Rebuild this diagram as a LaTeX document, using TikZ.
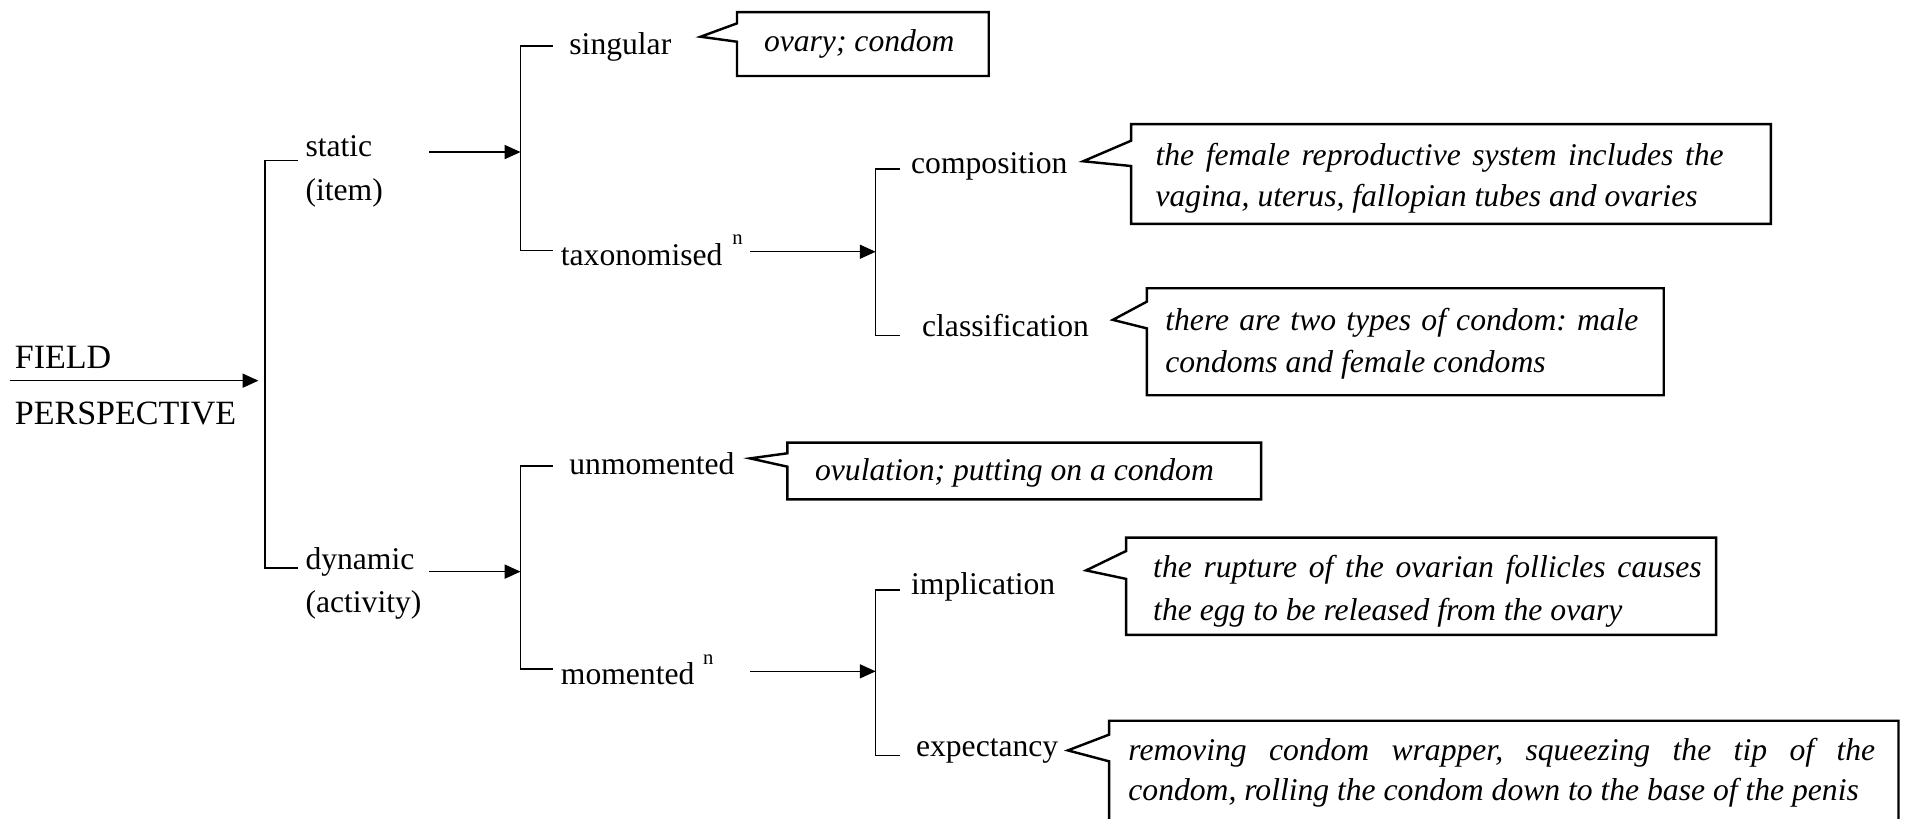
\documentclass[tikz,border=0pt]{standalone}
\usepackage{fontspec}
\setmainfont{Liberation Serif}
\usetikzlibrary{arrows.meta}
\frenchspacing

% outline of a rectangular speech bubble whose wedge points left:
% left, top, right, bottom, wedge top, wedge bottom, tip x, tip y
\newcommand{\drawbubble}[8]{%
  \draw[bubble] (#1,#2) -- (#3,#2) -- (#3,#4) -- (#1,#4) -- (#1,#6)
    -- (#7,#8) -- (#1,#5) -- cycle;}

\begin{document}
\begin{tikzpicture}[x=1pt,y=-1pt,
  lbl/.style={anchor=base west, inner sep=0pt, font=\fontsize{26}{34}\selectfont},
  rootlbl/.style={anchor=base west, inner sep=0pt, font=\fontsize{28}{34}\selectfont},
  note/.style={anchor=base west, inner sep=0pt, font=\fontsize{26}{34}\selectfont\itshape\frenchspacing},
  supn/.style={anchor=base west, inner sep=0pt, font=\fontsize{17}{20}\selectfont},
  tree/.style={line width=1.2pt},
  link/.style={line width=1.2pt, -{Triangle[length=13pt,width=11.5pt]}},
  bubble/.style={line width=2pt, line join=miter},
]
\useasboundingbox (0,0) rectangle (1568,673);

% ---- root ----
\node[rootlbl] (field) at (12,303) {FIELD};
\node[rootlbl] (persp) at (12,349) {PERSPECTIVE};
\coordinate (fp) at (8,313);
\coordinate (j1) at (218,313);
\coordinate (s1a) at (245,132);
\coordinate (s1b) at (245,467);
\draw[link, shorten >=5.5pt] (fp) -- (j1);
\draw[tree] (s1a) -| (j1) |- (s1b);

% ---- static branch ----
\node[lbl] (static) at (251,129) {static};
\node[lbl] (item) at (251,165) {(item)};
\coordinate (a2) at (353,125);
\coordinate (j2) at (428,125);
\coordinate (s2a) at (455,38);
\coordinate (s2b) at (455,206);
\draw[link] (a2) -- (j2);
\draw[tree] (s2a) -| (j2) |- (s2b);

\node[lbl] (singular) at (468,45) {singular};
\node[lbl] (tax) at (461,218) {taxonomised};
\node[supn] (taxn) at (602,201) {n};

\coordinate (a3) at (617,207);
\coordinate (j3) at (720,207);
\coordinate (s3a) at (740,139);
\coordinate (s3b) at (740,276);
\draw[link] (a3) -- (j3);
\draw[tree] (s3a) -| (j3) |- (s3b);

\node[lbl] (comp) at (749,143) {composition};
\node[lbl] (class) at (758,277) {classification};

% ---- dynamic branch ----
\node[lbl] (dynamic) at (251,468) {dynamic};
\node[lbl] (activity) at (251,504) {(activity)};
\coordinate (a4) at (353,470);
\coordinate (j4) at (428,470);
\coordinate (s4a) at (455,383);
\coordinate (s4b) at (455,550);
\draw[link] (a4) -- (j4);
\draw[tree] (s4a) -| (j4) |- (s4b);

\node[lbl] (unmom) at (468,390) {unmomented};
\node[lbl] (mom) at (461,563) {momented};
\node[supn] (momn) at (578,546) {n};

\coordinate (a5) at (617,552);
\coordinate (j5) at (720,552);
\coordinate (s5a) at (740,485);
\coordinate (s5b) at (740,621);
\draw[link] (a5) -- (j5);
\draw[tree] (s5a) -| (j5) |- (s5b);

\node[lbl] (impl) at (749,489) {implication};
\node[lbl] (expect) at (753,622) {expectancy};

% ---- example bubbles ----
\drawbubble{606}{10}{813}{62.5}{19.2}{34.3}{576}{30.2}
\node[note] (exsing) at (628,42) {ovary; condom};

\drawbubble{930}{102}{1456}{184}{115.7}{136.5}{890.6}{132.6}
\node[note] (excomp1) at (950,136) {\makebox[467pt][s]{the female reproductive system includes the}};
\node[note] (excomp2) at (950,170) {vagina, uterus, fallopian tubes and ovaries};

\drawbubble{943}{237}{1368}{325}{248}{270}{915}{263}
\node[note] (exclass1) at (958,272) {\makebox[389pt][s]{there are two types of condom: male}};
\node[note] (exclass2) at (958,306) {condoms and female condoms};

\drawbubble{647.4}{364}{1037}{410.6}{372.7}{383.7}{616.7}{376.9}
\node[note] (exunmom) at (670,395) {ovulation; putting on a condom};

\drawbubble{926}{442}{1411}{522}{453}{476}{893}{469}
\node[note] (eximpl1) at (948,475) {\makebox[451pt][s]{the rupture of the ovarian follicles causes}};
\node[note] (eximpl2) at (948,510) {the egg to be released from the ovary};

\drawbubble{912}{592.6}{1561}{700}{604}{626}{878}{617}
\node[note] (exexp1) at (927.6,625) {\makebox[614pt][s]{removing condom wrapper, squeezing the tip of the}};
\node[note] (exexp2) at (927.6,658) {condom, rolling the condom down to the base of the penis};
\end{tikzpicture}
\end{document}
